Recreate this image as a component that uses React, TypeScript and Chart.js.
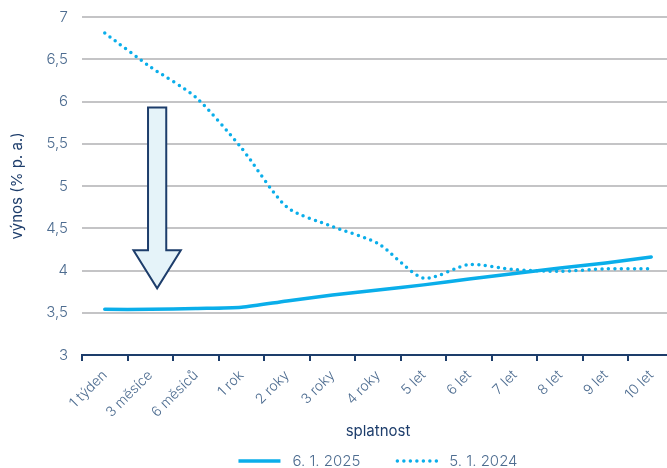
import React, { useEffect, useRef } from "react";
import { Chart, registerables } from "chart.js";

Chart.register(...registerables);

const categories = ["1 týden", "3 měsíce", "6 měsíců", "1 rok", "2 roky", "3 roky", "4 roky", "5 let", "6 let", "7 let", "8 let", "9 let", "10 let"];
const yields2025 = [3.54, 3.54, 3.55, 3.565, 3.64, 3.71, 3.77, 3.83, 3.9, 3.965, 4.03, 4.09, 4.16];
const yields2024 = [6.81, 6.41, 6.05, 5.45, 4.75, 4.52, 4.32, 3.91, 4.07, 4.01, 3.99, 4.02, 4.02];
const seriesLabels = ["6. 1. 2025", "5. 1. 2024"];
const yTicks = [3, 3.5, 4, 4.5, 5, 5.5, 6, 6.5, 7];
// arrow annotation: category position, from value, to value
const arrowAt = 1.15;
const arrowFrom = 5.93;
const arrowShaftEnd = 4.24;
const arrowTo = 3.79;

const NAVY = "#1d3d6b";
const CYAN = "#0aaeea";
const TICK = "#4d6c90";
const FONT = "Inter, 'Open Sans', sans-serif";

const arrowPlugin = {
  id: "arrowPlugin",
  afterDatasetsDraw(chart: any) {
    const { ctx, scales } = chart;
    const xs = scales.x;
    const ys = scales.y;
    const step = xs.getPixelForValue(1) - xs.getPixelForValue(0);
    const cx = xs.getPixelForValue(arrowAt);
    const shaftHalf = step * 0.2;
    const headHalf = step * 0.52;
    const top = ys.getPixelForValue(arrowFrom);
    const shaftEnd = ys.getPixelForValue(arrowShaftEnd);
    const tip = ys.getPixelForValue(arrowTo);
    ctx.save();
    ctx.beginPath();
    ctx.moveTo(cx - shaftHalf, top);
    ctx.lineTo(cx + shaftHalf, top);
    ctx.lineTo(cx + shaftHalf, shaftEnd);
    ctx.lineTo(cx + headHalf, shaftEnd);
    ctx.lineTo(cx, tip);
    ctx.lineTo(cx - headHalf, shaftEnd);
    ctx.lineTo(cx - shaftHalf, shaftEnd);
    ctx.closePath();
    ctx.fillStyle = "#e5f3f9";
    ctx.fill();
    ctx.lineWidth = 2;
    ctx.lineJoin = "miter";
    ctx.strokeStyle = NAVY;
    ctx.stroke();
    ctx.restore();
  },
};

const legendPlugin = {
  id: "bottomLegend",
  afterDraw(chart: any) {
    const { ctx, chartArea } = chart;
    const sampleW = 42;
    const textGap = 12;
    const itemGap = 35;
    ctx.save();
    ctx.font = `300 15px ${FONT}`;
    const items = chart.data.datasets.map((ds: any) => ({ ds, w: ctx.measureText(ds.label).width }));
    const total = items.reduce((s: number, it: any) => s + sampleW + textGap + it.w, 0) + itemGap * (items.length - 1);
    let x = (chartArea.left + chartArea.right) / 2 - total / 2;
    const y = chart.height - 7;
    items.forEach((it: any) => {
      ctx.beginPath();
      ctx.setLineDash(it.ds.borderDash || []);
      ctx.lineCap = it.ds.borderDash ? "round" : "butt";
      ctx.lineWidth = it.ds.borderWidth;
      ctx.strokeStyle = it.ds.borderColor;
      ctx.moveTo(x + (it.ds.borderDash ? 2 : 0), y);
      ctx.lineTo(x + sampleW, y);
      ctx.stroke();
      ctx.setLineDash([]);
      ctx.fillStyle = TICK;
      ctx.textBaseline = "middle";
      ctx.textAlign = "left";
      ctx.fillText(it.ds.label, x + sampleW + textGap, y);
      x += sampleW + textGap + it.w + itemGap;
    });
    ctx.restore();
  },
};

export default function App() {
  const ref = useRef<HTMLCanvasElement | null>(null);
  useEffect(() => {
    if (!ref.current) return;
    const chart = new Chart(ref.current, {
      type: "line",
      data: {
        labels: categories,
        datasets: [
          {
            label: seriesLabels[0],
            data: yields2025,
            borderColor: CYAN,
            backgroundColor: CYAN,
            borderWidth: 3.5,
            pointRadius: 0,
            tension: 0.25,
            borderCapStyle: "round",
          },
          {
            label: seriesLabels[1],
            data: yields2024,
            borderColor: CYAN,
            backgroundColor: CYAN,
            borderWidth: 3.5,
            borderDash: [0, 6.5],
            borderCapStyle: "round",
            pointRadius: 0,
            tension: 0.25,
          },
        ],
      },
      options: {
        responsive: false,
        animation: false,
        devicePixelRatio: 1,
        layout: { padding: { top: 17, right: 80, left: 0, bottom: 28 } },
        plugins: {
          legend: { display: false },
          tooltip: { enabled: false },
        },
        scales: {
          x: {
            offset: true,
            border: { display: true, color: NAVY, width: 2 },
            grid: { display: true, drawOnChartArea: false, drawTicks: true, tickLength: 6, color: NAVY, lineWidth: 2, offset: true },
            ticks: { color: TICK, minRotation: 45, maxRotation: 45, padding: 6, font: { family: FONT, size: 14, weight: 300 } },
            title: { display: true, text: "splatnost", color: NAVY, font: { family: FONT, size: 15, weight: 400 }, padding: { top: 0, bottom: 0 } },
            afterFit(scale: any) {
              scale.height = 85;
            },
          },
          y: {
            min: 3,
            max: 7,
            border: { display: false },
            grid: { color: "#c4c4c6", lineWidth: 2, drawTicks: false },
            afterBuildTicks(scale: any) {
              scale.ticks = yTicks.map((v) => ({ value: v }));
            },
            afterFit(scale: any) {
              scale.width = 82;
              scale.paddingTop = 0;
              scale.paddingBottom = 0;
            },
            ticks: {
              color: TICK,
              padding: 14,
              font: { family: FONT, size: 15, weight: 300 },
              callback: (v: any) => String(v).replace(".", ","),
            },
            title: { display: true, text: "výnos (% p. a.)", color: NAVY, font: { family: FONT, size: 15, weight: 400 }, padding: { top: 8, bottom: 0 } },
          },
        },
      },
      plugins: [arrowPlugin, legendPlugin],
    } as any);
    return () => chart.destroy();
  }, []);
  return (
    <div style={{ position: "fixed", left: 0, top: 0, width: 667, height: 468, overflow: "hidden", background: "#fff" }}>
      <canvas ref={ref} width={754} height={468} style={{ display: "block" }} />
    </div>
  );
}
